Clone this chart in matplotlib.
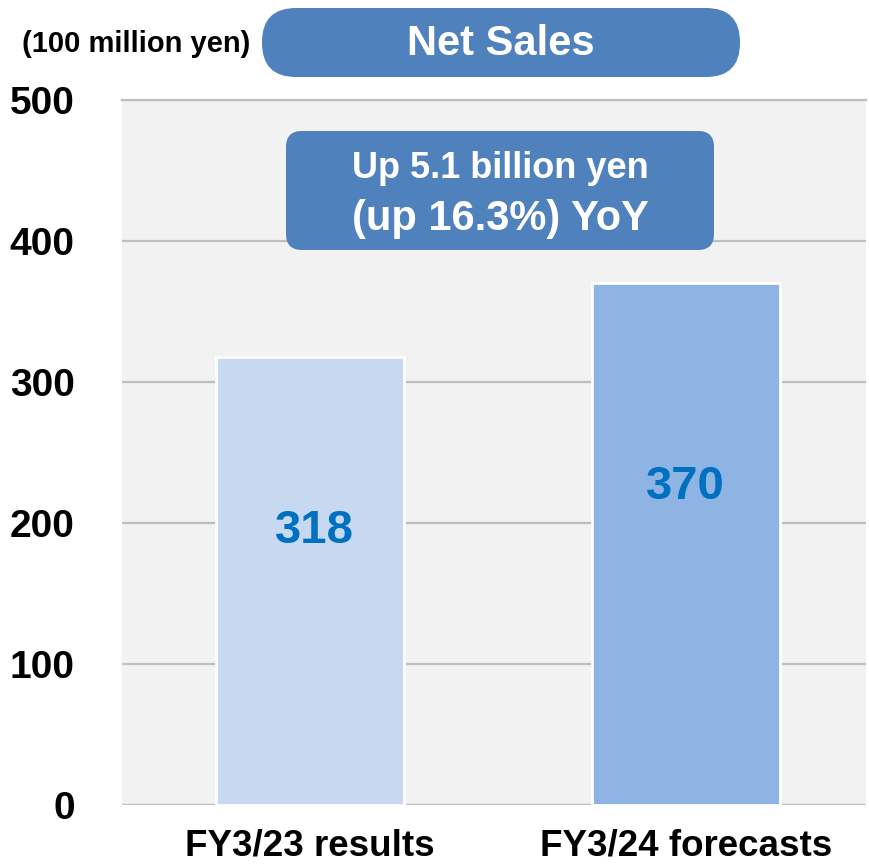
import matplotlib
matplotlib.use("Agg")
import matplotlib.pyplot as plt
from matplotlib.patches import FancyBboxPatch

plt.rcParams['font.family'] = ['Liberation Sans', 'DejaVu Sans']
plt.rcParams['font.weight'] = 'bold'

categories = ["FY3/23 results", "FY3/24 forecasts"]
values = [318, 370]
bar_colors = ["#c6d9f1", "#8eb4e3"]
yticks = [0, 100, 200, 300, 400, 500]

fig = plt.figure(figsize=(8.69, 8.65), dpi=100)
ax = fig.add_axes([122 / 869, 1 - 805 / 865, 744 / 869, 705 / 865])
ax.set_facecolor("#f2f2f2")

x = list(range(len(categories)))
ax.bar(x, values, width=0.5, color=bar_colors, edgecolor="white",
       linewidth=2, zorder=3)
for xi, v in zip(x, values):
    ax.text(xi + (0.013 if xi == 0 else 0), v * 0.61, str(v), ha="center",
            va="center", color="#0070c0", fontsize=34, fontweight="bold",
            zorder=4)

ax.set_xlim(-0.5, 1.48)
ax.set_ylim(0, 500)
ax.set_yticks(yticks)
ax.set_xticks(x)
ax.set_xticklabels(categories, fontsize=26.5, fontweight="bold")
ax.set_yticklabels([str(t) for t in yticks], fontsize=28, fontweight="bold")
ax.tick_params(axis="y", length=0, pad=34)
ax.tick_params(axis="x", length=0, pad=17)
ax.grid(axis="y", color="#bfbfbf", linewidth=1.6, zorder=1)
ax.set_axisbelow(True)
for s in ax.spines.values():
    s.set_visible(False)
ax.axhline(0, color="#bfbfbf", linewidth=1.6, zorder=2)
ax.axhline(500, color="#bfbfbf", linewidth=1.6, zorder=2, clip_on=False)

# overlay in pixel coordinates for the header and callout boxes
ov = fig.add_axes([0, 0, 1, 1], zorder=5)
ov.set_xlim(0, 869)
ov.set_ylim(865, 0)
ov.axis("off")

ov.add_patch(FancyBboxPatch((262, 8), 478, 69,
                            boxstyle="round,pad=0,rounding_size=34",
                            facecolor="#4f81bd", edgecolor="none"))
ov.text(501, 44, "Net Sales", ha="center", va="center", color="white",
        fontsize=30, fontweight="bold")
ov.text(22, 44, "(100 million yen)", ha="left", va="center", color="black",
        fontsize=21, fontweight="bold")

ov.add_patch(FancyBboxPatch((286, 131), 428, 119,
                            boxstyle="round,pad=0,rounding_size=16",
                            facecolor="#4f81bd", edgecolor="none"))
ov.text(500, 168, "Up 5.1 billion yen", ha="center", va="center",
        color="white", fontsize=26, fontweight="bold")
ov.text(500, 219, "(up 16.3%) YoY", ha="center", va="center",
        color="white", fontsize=30, fontweight="bold")

fig.savefig("out.png", dpi=100)
